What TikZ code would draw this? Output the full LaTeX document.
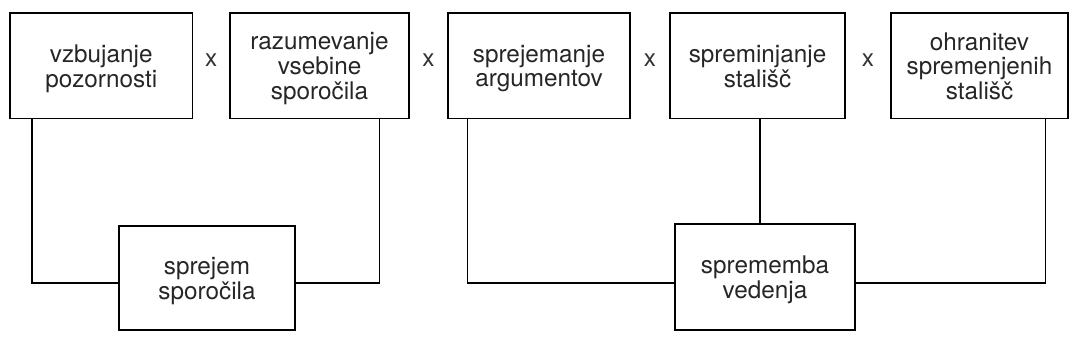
\documentclass[tikz,border=0pt]{standalone}
\usepackage{fontspec}
\setmainfont{TeX Gyre Heros}
\usetikzlibrary{calc}
% centred lines of a stage label, set a little below the middle of the box
\newcommand{\stagetext}[1]{\raisebox{-4pt}[\height][\depth]{\begin{tabular}{@{}c@{}}#1\end{tabular}}}
\tikzset{
  x=1pt, y=-1pt,
  stagebox/.style={draw, line width=1.4pt, inner sep=0pt,
    font=\fontsize{24.3}{24}\selectfont, text=black!85},
  times/.style={font=\fontsize{24.3}{24}\selectfont, text=black!80},
  link/.style={line width=1.4pt, line join=miter},
}
\begin{document}
\begin{tikzpicture}
  \useasboundingbox (0,0) rectangle (1079,361);
  % upper row of stages
  \node[stagebox, minimum width=182.5pt, minimum height=105pt] (b1) at (101.25,65.7) {\stagetext{vzbujanje\\pozornosti}};
  \node[stagebox, minimum width=179pt, minimum height=105pt] (b2) at (319.5,65.7) {\stagetext{razumevanje\\vsebine\\sporočila}};
  \node[stagebox, minimum width=182pt, minimum height=105pt] (b3) at (539,65.7) {\stagetext{sprejemanje\\argumentov}};
  \node[stagebox, minimum width=175pt, minimum height=105pt] (b4) at (757.5,65.7) {\stagetext{spreminjanje\\stališč}};
  \node[stagebox, minimum width=177pt, minimum height=105pt] (b5) at (979.5,65.7) {\stagetext{ohranitev\\spremenjenih\\stališč}};
  % multiplication signs between the stages
  \node[times] (m1) at ($(b1.east)!0.5!(b2.west)+(0,-6)$) {x};
  \node[times] (m2) at ($(b2.east)!0.5!(b3.west)+(0,-6)$) {x};
  \node[times] (m3) at ($(b3.east)!0.5!(b4.west)+(0,-6)$) {x};
  \node[times] (m4) at ($(b4.east)!0.5!(b5.west)+(0,-6)$) {x};
  % outcomes
  \node[stagebox, minimum width=176pt, minimum height=104pt] (s1) at (207,278) {\stagetext{sprejem\\sporočila}};
  \node[stagebox, minimum width=180pt, minimum height=106pt] (s2) at (765,277) {\stagetext{sprememba\\vedenja}};
  % level of the joining lines
  \coordinate (h) at (0,283);
  \coordinate (d1) at ([xshift=22.5pt]b1.south west);
  \coordinate (d2) at ([xshift=-30pt]b2.south east);
  \coordinate (d3) at ([xshift=20pt]b3.south west);
  \coordinate (d4) at ([xshift=2.5pt]b4.south);
  \coordinate (d5) at ([xshift=-23pt]b5.south east);
  \draw[link] (d1) |- (s1.west |- h);
  \draw[link] (d2) |- (s1.east |- h);
  \draw[link] (d3) |- (s2.west |- h);
  \draw[link] (d5) |- (s2.east |- h);
  \draw[link] (d4) -- (d4 |- s2.north);
\end{tikzpicture}
\end{document}
